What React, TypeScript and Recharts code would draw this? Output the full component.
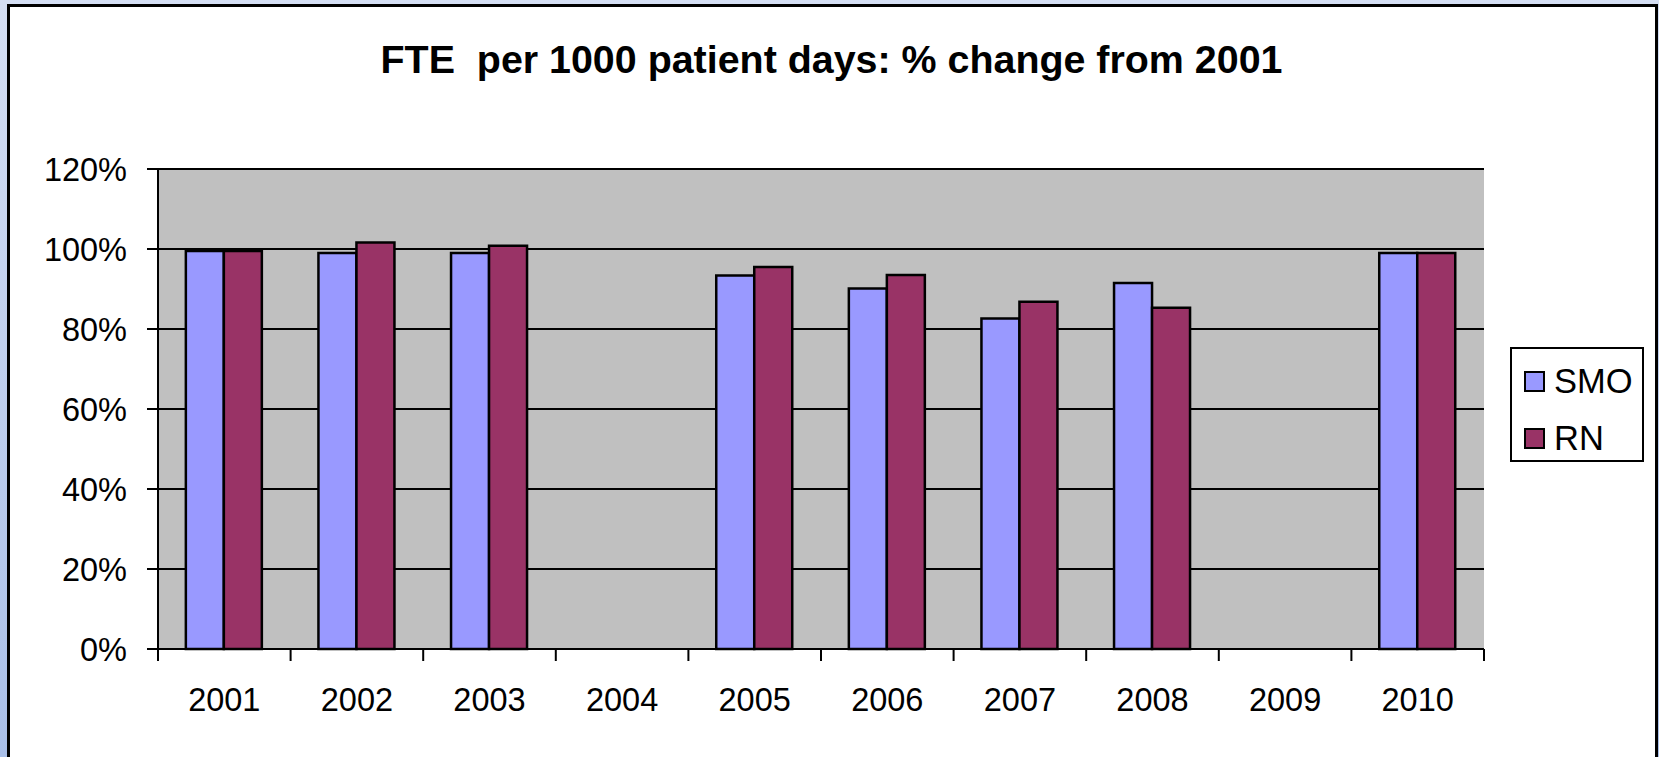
import React from 'react';
import { BarChart, Bar, XAxis, YAxis, CartesianGrid, Legend } from 'recharts';

const years = ['2001', '2002', '2003', '2004', '2005', '2006', '2007', '2008', '2009', '2010'];
const smo: (number | null)[] = [0.995, 0.99, 0.99, null, 0.934, 0.901, 0.826, 0.915, null, 0.99];
const rn: (number | null)[] = [0.995, 1.016, 1.008, null, 0.955, 0.935, 0.868, 0.853, null, 0.99];
const yTicks = [0, 0.2, 0.4, 0.6, 0.8, 1.0, 1.2];
const title = 'FTE  per 1000 patient days: % change from 2001';

const data = years.map((y, i) => ({ year: y, SMO: smo[i], RN: rn[i] }));

const FONT = '"Liberation Sans", Arial, sans-serif';

const XTick = (props: any) => {
  const { x, y, payload, index } = props;
  const off = payload && payload.offset ? payload.offset : 66.3;
  const axisY = y - 39;
  return (
    <g>
      <line x1={x - off} x2={x - off} y1={axisY} y2={axisY + 12} stroke="#000" strokeWidth={2} />
      {index === years.length - 1 && (
        <line x1={x + off} x2={x + off} y1={axisY} y2={axisY + 12} stroke="#000" strokeWidth={2} />
      )}
      <text x={x} y={y} dy="0.71em" textAnchor="middle" fill="#000" fontSize={32.5} fontFamily={FONT}>
        {payload.value}
      </text>
    </g>
  );
};

const LegendContent = () => (
  <div
    style={{
      width: 130,
      height: 111,
      border: '2px solid #000',
      background: '#fff',
      boxSizing: 'content-box',
      fontFamily: FONT,
      fontSize: 34.5,
      position: 'relative',
    }}
  >
    {[
      { name: 'SMO', color: '#9999FF', top: 20 },
      { name: 'RN', color: '#993366', top: 77 },
    ].map((e) => (
      <div key={e.name} style={{ position: 'absolute', left: 12, top: e.top, height: 24, display: 'flex', alignItems: 'center' }}>
        <div style={{ width: 17, height: 17, background: e.color, border: '2px solid #000' }} />
        <span style={{ marginLeft: 9, lineHeight: '24px', color: '#000' }}>{e.name}</span>
      </div>
    ))}
  </div>
);

export default function App() {
  return (
    <div
      style={{
        position: 'absolute',
        left: 0,
        top: 0,
        width: 1659,
        height: 757,
        overflow: 'hidden',
        background: 'linear-gradient(180deg, #D4DEF3 0%, #A9BFE8 100%)',
      }}
    >
      <div
        style={{
          position: 'absolute',
          left: 7,
          top: 4,
          width: 1645,
          height: 800,
          background: '#fff',
          border: '3px solid #000',
        }}
      />
      <svg style={{ position: 'absolute', left: 0, top: 0 }} width={1659} height={757}>
        <text
          x={831.5}
          y={73}
          textAnchor="middle"
          fontFamily={FONT}
          fontWeight="bold"
          fontSize={39.4}
          fill="#000"
          style={{ whiteSpace: 'pre' }}
        >
          {title}
        </text>
      </svg>
      <div style={{ position: 'absolute', left: 0, top: 0 }}>
        <BarChart
          width={1659}
          height={757}
          data={data}
          margin={{ top: 169, right: 41, bottom: 48, left: 0 }}
          barCategoryGap="21%"
          barGap={0}
        >
          <CartesianGrid vertical={false} fill="#C0C0C0" fillOpacity={1} stroke="#000" strokeWidth={2} />
          <XAxis
            xAxisId="top"
            dataKey="year"
            orientation="top"
            height={0}
            tick={false}
            tickLine={false}
            axisLine={{ stroke: '#808080', strokeWidth: 2.5 }}
          />
          <YAxis
            yAxisId="right"
            orientation="right"
            width={0}
            tick={false}
            tickLine={false}
            axisLine={{ stroke: '#808080', strokeWidth: 2.5 }}
          />
          <XAxis
            dataKey="year"
            height={60}
            tickSize={12}
            tickMargin={27}
            tickLine={false}
            axisLine={{ stroke: '#000', strokeWidth: 2 }}
            tick={<XTick />}
            interval={0}
          />
          <YAxis
            width={158}
            domain={[0, 1.2]}
            ticks={yTicks}
            tickFormatter={(v: number) => `${Math.round(v * 100)}%`}
            tickSize={11}
            tickMargin={20}
            tickLine={{ stroke: '#000', strokeWidth: 2 }}
            axisLine={{ stroke: '#000', strokeWidth: 2 }}
            tick={{ fill: '#000', fontSize: 32.5, fontFamily: FONT }}
            interval={0}
          />
          <Legend
            layout="vertical"
            align="right"
            verticalAlign="middle"
            content={<LegendContent />}
            wrapperStyle={{ position: 'absolute', left: 1510, top: 347, width: 'auto' }}
          />
          <Bar dataKey="SMO" fill="#9999FF" stroke="#000" strokeWidth={2.5} isAnimationActive={false} />
          <Bar dataKey="RN" fill="#993366" stroke="#000" strokeWidth={2.5} isAnimationActive={false} />
        </BarChart>
      </div>
    </div>
  );
}
